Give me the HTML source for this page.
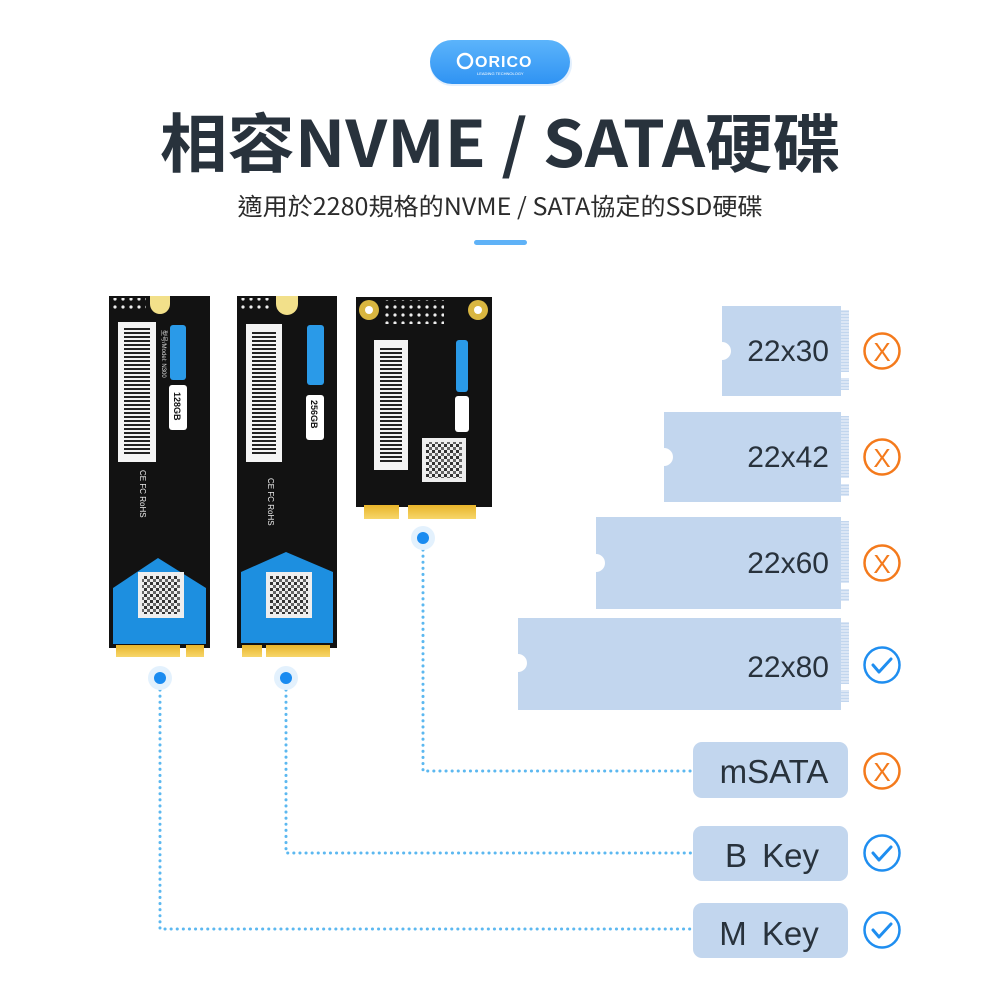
<!DOCTYPE html>
<html><head><meta charset="utf-8"><style>
html,body{margin:0;padding:0;background:#fff;}
svg{display:block;}
text{font-family:"Liberation Sans","Noto Sans CJK TC",sans-serif;}
.cj{font-family:"Noto Sans CJK TC","Liberation Sans",sans-serif;}
</style></head><body>
<svg width="1000" height="1000" viewBox="0 0 1000 1000" xmlns="http://www.w3.org/2000/svg">
<defs>
<linearGradient id="pill" x1="0" y1="0" x2="0" y2="1"><stop offset="0" stop-color="#5cb4fb"/><stop offset="1" stop-color="#2f93f3"/></linearGradient>
<linearGradient id="gold" x1="0" y1="0" x2="0" y2="1"><stop offset="0" stop-color="#e8b52a"/><stop offset="1" stop-color="#f7d66a"/></linearGradient>
<pattern id="barh" width="10" height="4" patternUnits="userSpaceOnUse"><rect width="10" height="2" fill="#222"/></pattern>
<pattern id="qr" width="6" height="6" patternUnits="userSpaceOnUse"><rect width="3" height="3" fill="#333"/><rect x="3" y="3" width="3" height="3" fill="#666"/></pattern>
<pattern id="pins" width="10" height="3" patternUnits="userSpaceOnUse"><rect width="10" height="2" fill="#dbe6f5"/><rect y="2" width="10" height="1" fill="#c2d6ee"/></pattern>
<pattern id="dots" width="8" height="8" patternUnits="userSpaceOnUse"><circle cx="3" cy="3" r="1.6" fill="#eee"/></pattern>
</defs>

<rect x="430" y="42" width="142" height="44" rx="22" fill="#cfe5fb" opacity="0.6"/>
<rect x="430" y="40" width="140" height="44" rx="22" fill="url(#pill)"/>
<circle cx="465" cy="61" r="7" fill="none" stroke="#fff" stroke-width="2.5"/>
<text x="475" y="67" font-size="16" font-weight="bold" fill="#fff" letter-spacing="1">ORICO</text>
<text x="477" y="75" font-size="4" fill="#fff">LEADING TECHNOLOGY</text>

<text class="cj" x="500" y="167" font-size="64" font-weight="bold" fill="#28323c" text-anchor="middle" textLength="680" lengthAdjust="spacingAndGlyphs">相容NVME / SATA硬碟</text>
<text class="cj" x="500" y="215" font-size="24" fill="#2c2c2c" text-anchor="middle" textLength="525" lengthAdjust="spacingAndGlyphs">適用於2280規格的NVME / SATA協定的SSD硬碟</text>
<rect x="474" y="240" width="53" height="5" rx="2.5" fill="#5fb2f7"/>

<g>
<rect x="109" y="296" width="101" height="352" fill="#121212"/>
<rect x="112" y="298" width="34" height="14" fill="url(#dots)"/>
<path d="M150 296 h20 v8 a10 10 0 0 1 -20 0z" fill="#f2e08a"/>
<rect x="118" y="322" width="38" height="140" fill="#f4f4f4"/>
<rect x="124" y="328" width="26" height="128" fill="url(#barh)"/>
<rect x="170" y="325" width="16" height="55" rx="3" fill="#2a9ae8"/>
<rect x="169" y="385" width="18" height="45" rx="3" fill="#fff"/>
<text x="0" y="0" font-size="9" font-weight="bold" fill="#111" transform="translate(174,392) rotate(90)">128GB</text>
<text x="0" y="0" font-size="6" fill="#ddd" transform="translate(162,330) rotate(90)">型号/Model: N300</text>
<text x="0" y="0" font-size="8" fill="#eee" transform="translate(140,470) rotate(90)">CE FC RoHS</text>
<path d="M113 588 L158 558 L206 588 L206 644 L113 644z" fill="#1d8fe0"/>
<rect x="138" y="572" width="46" height="46" fill="#eee"/>
<rect x="142" y="576" width="38" height="38" fill="url(#qr)"/>
<rect x="116" y="645" width="64" height="12" fill="url(#gold)"/>
<rect x="186" y="645" width="18" height="12" fill="url(#gold)"/>
</g>
<g>
<rect x="237" y="296" width="100" height="352" fill="#121212"/>
<rect x="240" y="298" width="32" height="14" fill="url(#dots)"/>
<path d="M276 296 h22 v8 a11 11 0 0 1 -22 0z" fill="#f2e08a"/>
<rect x="246" y="324" width="36" height="138" fill="#f4f4f4"/>
<rect x="252" y="330" width="24" height="126" fill="url(#barh)"/>
<rect x="307" y="325" width="17" height="60" rx="3" fill="#2a9ae8"/>
<rect x="306" y="395" width="18" height="45" rx="3" fill="#fff"/>
<text x="0" y="0" font-size="9" font-weight="bold" fill="#111" transform="translate(311,400) rotate(90)">256GB</text>
<text x="0" y="0" font-size="8" fill="#eee" transform="translate(268,478) rotate(90)">CE FC RoHS</text>
<path d="M241 572 L286 552 L333 572 L333 643 L241 643z" fill="#1d8fe0"/>
<rect x="266" y="572" width="46" height="46" fill="#eee"/>
<rect x="270" y="576" width="38" height="38" fill="url(#qr)"/>
<rect x="242" y="645" width="20" height="12" fill="url(#gold)"/>
<rect x="266" y="645" width="64" height="12" fill="url(#gold)"/>
</g>
<g>
<rect x="356" y="297" width="136" height="210" fill="#121212"/>
<rect x="384" y="300" width="60" height="24" fill="url(#dots)"/>
<circle cx="369" cy="310" r="10" fill="#d9b640"/><circle cx="369" cy="310" r="4" fill="#fff"/>
<circle cx="478" cy="310" r="10" fill="#d9b640"/><circle cx="478" cy="310" r="4" fill="#fff"/>
<rect x="374" y="340" width="34" height="130" fill="#f4f4f4"/>
<rect x="380" y="346" width="22" height="118" fill="url(#barh)"/>
<rect x="456" y="340" width="12" height="52" rx="3" fill="#2a9ae8"/>
<rect x="455" y="396" width="14" height="36" rx="3" fill="#fff"/>
<rect x="422" y="438" width="44" height="44" fill="#eee"/>
<rect x="426" y="442" width="36" height="36" fill="url(#qr)"/>
<rect x="364" y="505" width="35" height="14" fill="url(#gold)"/>
<rect x="408" y="505" width="68" height="14" fill="url(#gold)"/>
</g>

<g fill="none" stroke="#5cb8f0" stroke-width="3" stroke-dasharray="0.1 6" stroke-linecap="round">
<path d="M160 690 V929 H693"/>
<path d="M286 690 V853 H693"/>
<path d="M423 550 V771 H693"/>
</g>
<g>
<circle cx="160" cy="678" r="12" fill="#e3f1fd"/><circle cx="160" cy="678" r="6" fill="#1a8bf0"/>
<circle cx="286" cy="678" r="12" fill="#e3f1fd"/><circle cx="286" cy="678" r="6" fill="#1a8bf0"/>
<circle cx="423" cy="538" r="12" fill="#e3f1fd"/><circle cx="423" cy="538" r="6" fill="#1a8bf0"/>
</g>

<g fill="#c2d6ee">
<path d="M722 306 H841 V396 H722 V360 a9 9 0 0 0 0 -18 Z"/>
<path d="M664 412 H841 V502 H664 V466 a9 9 0 0 0 0 -18 Z"/>
<path d="M596 517 H841 V609 H596 V572 a9 9 0 0 0 0 -18 Z"/>
<path d="M518 618 H841 V710 H518 V672 a9 9 0 0 0 0 -18 Z"/>
</g>
<g fill="url(#pins)">
<rect x="841" y="310" width="8" height="62"/><rect x="841" y="378" width="8" height="12"/>
<rect x="841" y="416" width="8" height="62"/><rect x="841" y="484" width="8" height="12"/>
<rect x="841" y="521" width="8" height="62"/><rect x="841" y="589" width="8" height="12"/>
<rect x="841" y="622" width="8" height="62"/><rect x="841" y="690" width="8" height="12"/>
</g>
<g font-size="30" fill="#28323c" text-anchor="end">
<text x="829" y="361">22x30</text>
<text x="829" y="467">22x42</text>
<text x="829" y="573">22x60</text>
<text x="829" y="677">22x80</text>
</g>

<g fill="#c2d6ee">
<rect x="693" y="742" width="155" height="56" rx="9"/>
<rect x="693" y="826" width="155" height="55" rx="9"/>
<rect x="693" y="903" width="155" height="55" rx="9"/>
</g>
<g font-size="33" fill="#28323c" text-anchor="middle">
<text x="774" y="783">mSATA</text>
<text x="772" y="867" word-spacing="6">B Key</text>
<text x="769" y="945" word-spacing="6">M Key</text>
</g>

<g fill="none" stroke-width="2.5">
<g stroke="#f47a1c">
<circle cx="882" cy="351" r="17.5"/><circle cx="882" cy="457" r="17.5"/><circle cx="882" cy="563" r="17.5"/><circle cx="882" cy="771" r="17.5"/>
</g>
<g stroke="#1f8ef0">
<circle cx="882" cy="665" r="17.5"/><circle cx="882" cy="853" r="17.5"/><circle cx="882" cy="930" r="17.5"/>
<path d="M873 665 l6 7 l12 -13 M873 853 l6 7 l12 -13 M873 930 l6 7 l12 -13" stroke-width="3" stroke-linecap="round" stroke-linejoin="round"/>
</g>
</g>
<g font-size="26" fill="#f47a1c" text-anchor="middle">
<text x="882" y="361">X</text><text x="882" y="467">X</text><text x="882" y="573">X</text><text x="882" y="781">X</text>
</g>
</svg>
</body></html>
